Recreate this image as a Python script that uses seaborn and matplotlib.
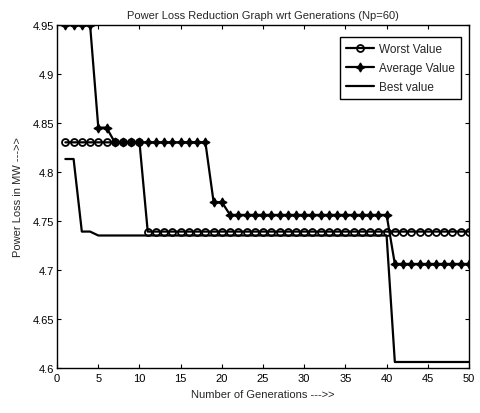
import matplotlib
matplotlib.use("Agg")
import matplotlib.pyplot as plt
import seaborn as sns
import numpy as np

generations = list(range(1, 51))
worst_value = [4.83] * 10 + [4.739] * 40
average_value = ([4.95] * 4 + [4.845] * 2 + [4.83] * 12 + [4.769] * 2
                 + [4.756] * 20 + [4.706] * 10)
best_value = [4.813] * 2 + [4.739] * 2 + [4.735] * 36 + [4.606] * 10

x_ticks = list(range(0, 51, 5))
y_ticks = [4.6, 4.65, 4.7, 4.75, 4.8, 4.85, 4.9, 4.95]
y_tick_labels = ["4.6", "4.65", "4.7", "4.75", "4.8", "4.85", "4.9", "4.95"]

sns.set_style("ticks")
plt.rcParams["font.family"] = ["Liberation Sans", "DejaVu Sans"]
plt.rcParams["xtick.direction"] = "in"
plt.rcParams["ytick.direction"] = "in"

fig = plt.figure(figsize=(4.8, 4.14), dpi=100)
ax = fig.add_axes([0.119, 0.109, 0.858, 0.829])

sns.lineplot(x=generations, y=worst_value, ax=ax, color="black", linewidth=1.6,
             marker="o", markersize=5, markerfacecolor="none",
             markeredgecolor="black", markeredgewidth=1.3, label="Worst Value")
sns.lineplot(x=generations, y=average_value, ax=ax, color="black", linewidth=1.6,
             marker=(4, 1, 0), markersize=6.5, markeredgecolor="black",
             markeredgewidth=0.9, label="Average Value")
sns.lineplot(x=generations, y=best_value, ax=ax, color="black", linewidth=1.6,
             label="Best value")

ax.set_xlim(0, 50)
ax.set_ylim(4.6, 4.95)
ax.set_xticks(x_ticks)
ax.set_yticks(y_ticks)
ax.set_yticklabels(y_tick_labels)
ax.tick_params(labelsize=8, length=3, width=0.8, top=True, right=True,
               colors="black")
ax.tick_params(axis="x", pad=4)
ax.tick_params(axis="y", pad=2)
for s in ax.spines.values():
    s.set_visible(True)
    s.set_color("black")
    s.set_linewidth(1.0)

ax.set_title("Power Loss Reduction Graph wrt Generations (Np=60)", fontsize=8, pad=5)
ax.set_xlabel("Number of Generations --->>", fontsize=8, labelpad=4)
ax.set_ylabel("Power Loss in MW --->>", fontsize=8, labelpad=7)

leg = ax.legend(loc="upper right", fontsize=8.5, frameon=True, fancybox=False,
                edgecolor="black", framealpha=1, borderpad=0.5,
                handlelength=2.4, handletextpad=0.4, labelspacing=0.6,
                bbox_to_anchor=(0.995, 0.982))
leg.get_frame().set_linewidth(1.0)

fig.savefig("out.png", dpi=100)
